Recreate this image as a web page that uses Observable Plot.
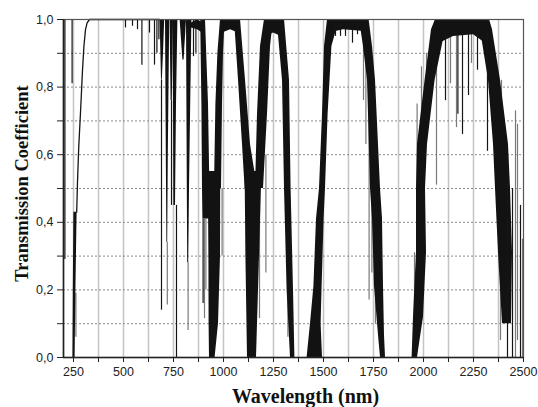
<!DOCTYPE html>
<html><head><meta charset="utf-8">
<script src="https://cdn.jsdelivr.net/npm/d3@7"></script>
<script src="https://cdn.jsdelivr.net/npm/@observablehq/plot@0.6"></script>
<style>
html,body{margin:0;padding:0;background:#fff;}
#chart{width:538px;height:407px;overflow:hidden;}
</style></head><body><div id="chart"></div>
<script>
// ---- Absorption walls: black bands (level, left edge nm, right edge nm) ----
const wallName  = ["uv","uv","uv",
  "o2b","o2b","o2b", "h720","h720","h720", "h740","h740", "o2a","o2a","o2a",
  "h800","h800", "h823","h823","h823",
  "L940","L940","L940","L940", "T940","T940","T940","T940", "R940","R940","R940","R940",
  "L1130","L1130","L1130","L1130", "T1130","T1130","T1130", "R1130","R1130","R1130","R1130",
  "L1380","L1380","L1380","L1380","L1380",
  "R1380","R1380","R1380","R1380","R1380","R1380","R1380","R1380",
  "L1900","L1900","L1900","L1900","L1900","L1900","L1900","L1900","L1900",
  "R1900","R1900","R1900","R1900","R1900","R1900","R1900","R1900",
  "L2400","L2400","L2400","L2400","L2400","L2400","L2400"];
const wallV     = [0,0.2,0.43,
  0.82,0.9,1.0, 0.34,0.6,1.0, 0.76,1.0, 0.45,0.75,1.0,
  0.88,1.0, 0.28,0.5,1.0,
  0.41,0.5,0.75,1.0, 0,0.1,0.3,0.55, 0.5,0.75,0.9,1.0,
  0.5,0.63,0.82,1.0, 0,0.3,0.55, 0.5,0.72,0.92,1.0,
  0,0.2,0.5,0.82,1.0,
  0,0.1,0.21,0.41,0.5,0.72,0.92,1.0,
  0,0.065,0.21,0.41,0.5,0.72,0.82,0.92,1.0,
  0,0.12,0.31,0.5,0.63,0.82,0.97,1.0,
  0.1,0.31,0.5,0.63,0.82,0.97,1.0];
const wallLeft  = [247,249,252,
  690,687,683, 717,714,710, 738,733, 752,750,748,
  797,783, 821,819,815,
  897,895,892,886, 930,928,927,924, 955,962,972,985,
  1108,1095,1075,1055, 1120,1112,1108, 1160,1170,1185,1205,
  1335,1318,1305,1295,1268,
  1418,1435,1452,1465,1480,1495,1505,1520,
  1785,1775,1755,1745,1735,1725,1720,1700,1680,
  1943,1950,1965,1965,1970,2008,2040,2060,
  2395,2375,2360,2350,2325,2285,2270];
const wallRight = [258,262,268,
  694,700,706, 721,724,731, 744,750, 760,765,772,
  803,815, 826,830,842,
  930,932,925,910, 958,975,985,986, 990,995,1000,1008,
  1170,1135,1110,1085, 1165,1180,1192, 1200,1220,1235,1250,
  1357,1350,1338,1330,1305,
  1495,1488,1493,1503,1510,1523,1542,1580,
  1810,1805,1800,1795,1785,1768,1760,1745,1728,
  1970,2000,2015,2010,2020,2058,2110,2125,
  2440,2445,2435,2425,2385,2345,2330];

// ---- Window tops: dense band just below 1,0 ----
const capName = ["c870","c870","c870","c1040","c1040","c1040","c1260","c1260","c1260",
  "c1640","c1640","c1640","c1640","c2200","c2200","c2200","c2200"];
const capWl   = [840,870,895, 995,1035,1075, 1215,1250,1290, 1530,1600,1690,1720, 2080,2150,2250,2310];
const capHi   = [0.99,1,0.99, 1,1,1, 1,1,1, 1,1,1,1, 1,1,1,1];
const capLo   = [0.975,0.97,0.96, 0.96,0.97,0.96, 0.95,0.96,0.95, 0.96,0.97,0.965,0.95, 0.93,0.95,0.955,0.93];

// ---- Single absorption lines ----
const spikeWl   = [207,243,262,510,545,570,592,630,655,667,677,690,719,740,765,823,850,862,898,905,912,993,
  1180,1212,1322,1560,1585,1610,1645,1670,1700,1712,1728,1742,1760,
  1955,1968,1990,2015,2065,2110,2135,2165,2172,2195,2225,2240,2270,2320,2385,2390,2420,2445,2460,2470,2485,2495];
const spikeFrom = [1,1,0.19,1,1,1,1,1,1,1,1,0.82,0.34,0.76,0.45,0.28,1,1,0.41,0.41,0.41,0.5,
  0.5,0.6,0.3,1,1,1,1,1,0.96,0.92,0.72,0.5,0.3,
  0.31,0.75,0.86,0.9,0.97,0.97,0.97,0.96,0.96,0.96,0.96,0.96,0.96,0.96,0.3,0.82,0.6,0.5,0.73,0.69,0.45,0.35];
const spikeTo   = [0.29,0.81,0.06,0.975,0.98,0.97,0.865,0.96,0.865,0.9,0.94,0.14,0.155,0.45,0,0.08,0.89,0.9,0.16,0.115,0.2,0.3,
  0.115,0.25,0.06,0.95,0.95,0.95,0.93,0.955,0.76,0.63,0.17,0.25,0.1,
  0.07,0.4,0.55,0.64,0.51,0.76,0.81,0.68,0.72,0.66,0.775,0.87,0.85,0.61,0.05,0.54,0,0,0,0.05,0,0];
const spikeTone = ["k","k","g","k","k","k","k","k","k","k","k","k","g","k","k","g","k","k","k","g","g","g",
  "g","g","g","k","k","k","k","k","g","g","g","g","g",
  "g","g","g","g","g","k","g","g","k","k","k","g","k","k","g","g","k","k","g","g","k","g"];

// ---- UV edge (single trace) ----
const uvWl = [266,270,276,285,295,302,310,318,330,680];
const uvT  = [0.43,0.52,0.62,0.725,0.85,0.92,0.97,0.99,1.0,1.0];

// ---- Axes ----
const xTickAll = [250,375,500,625,750,875,1000,1125,1250,1375,1500,1625,1750,1875,2000,2125,2250,2375,2500];
const xTickLabeled = [250,500,750,1000,1250,1500,1750,2000,2250,2500];
const xGrid = [250,375,500,625,750,875,1000,1125,1250,1375,1500,1625,1750,1875,2000,2125,2250,2375];
const yTickAll = [0,0.1,0.2,0.3,0.4,0.5,0.6,0.7,0.8,0.9,1.0];
const yTickLabeled = [0,0.2,0.4,0.6,0.8,1.0];
const yGrid = [0.1,0.2,0.3,0.4,0.5,0.6,0.7,0.8,0.9];

const walls = wallName.map((n,i)=>({name:n, v:wallV[i], a:wallLeft[i], b:wallRight[i]}));
const caps = capName.map((n,i)=>({name:n, wl:capWl[i], hi:capHi[i], lo:capLo[i]}));
const spikes = spikeWl.map((w,i)=>({wl:w, from:spikeFrom[i], to:spikeTo[i], tone:spikeTone[i]}));
const uv = uvWl.map((w,i)=>({wl:w, t:uvT[i]}));

const fmtY = d => yTickLabeled.some(t=>Math.abs(t-d)<1e-9) ? d.toFixed(1).replace(".", ",") : "";
const fmtX = d => xTickLabeled.includes(d) ? String(d) : "";

const chart = Plot.plot({
  width: 538, height: 407,
  marginLeft: 63, marginRight: 15, marginTop: 19, marginBottom: 50,
  style: {fontFamily: "'Liberation Sans', Arial, sans-serif", fontSize: "12.5px", color: "#222", background: "#fff"},
  x: {domain: [200, 2500], label: null},
  y: {domain: [0, 1], label: null},
  marks: [
    Plot.ruleX(xGrid, {stroke: "#c4c4c4", strokeWidth: 1.5}),
    Plot.ruleY(yGrid, {stroke: "#8a8a8a", strokeDasharray: "2,2", strokeWidth: 1}),
    Plot.ruleX(spikes.filter(d=>d.tone==="g"), {x: "wl", y1: "from", y2: "to", stroke: "#7a7a7a", strokeWidth: 1.2}),
    Plot.areaX(walls, {y: "v", x1: "a", x2: "b", z: "name", fill: "#121212", curve: "linear"}),
    Plot.areaY(caps, {x: "wl", y1: "lo", y2: "hi", z: "name", fill: "#121212", curve: "linear"}),
    Plot.ruleX(spikes.filter(d=>d.tone==="k"), {x: "wl", y1: "from", y2: "to", stroke: "#151515", strokeWidth: 1.2}),
    Plot.line(uv, {x: "wl", y: "t", stroke: "#151515", strokeWidth: 1.3}),
    Plot.frame({stroke: "#555", strokeWidth: 1.2}),
    Plot.ruleX([200], {stroke: "#222", strokeWidth: 1.6}),
    Plot.ruleY([0], {stroke: "#222", strokeWidth: 1.6}),
    Plot.axisX({ticks: xTickAll, tickFormat: fmtX, tickSize: 5, tickPadding: 5, stroke: "#222"}),
    Plot.axisY({ticks: yTickAll, tickFormat: fmtY, tickSize: 6, tickPadding: 4, stroke: "#222"}),
    Plot.text(["Wavelength (nm)"], {frameAnchor: "bottom", dy: 39, dx: 12, lineAnchor: "middle", textAnchor: "middle",
      fontFamily: "'Liberation Serif', 'Times New Roman', serif", fontWeight: "bold", fontSize: 20, fill: "#111"}),
    Plot.text(["Transmission Coefficient"], {frameAnchor: "left", dx: -41, dy: -5, rotate: -90, lineAnchor: "middle", textAnchor: "middle",
      fontFamily: "'Liberation Serif', 'Times New Roman', serif", fontWeight: "bold", fontSize: 18.5, fill: "#111"})
  ]
});
document.getElementById("chart").appendChild(chart);
</script></body></html>
